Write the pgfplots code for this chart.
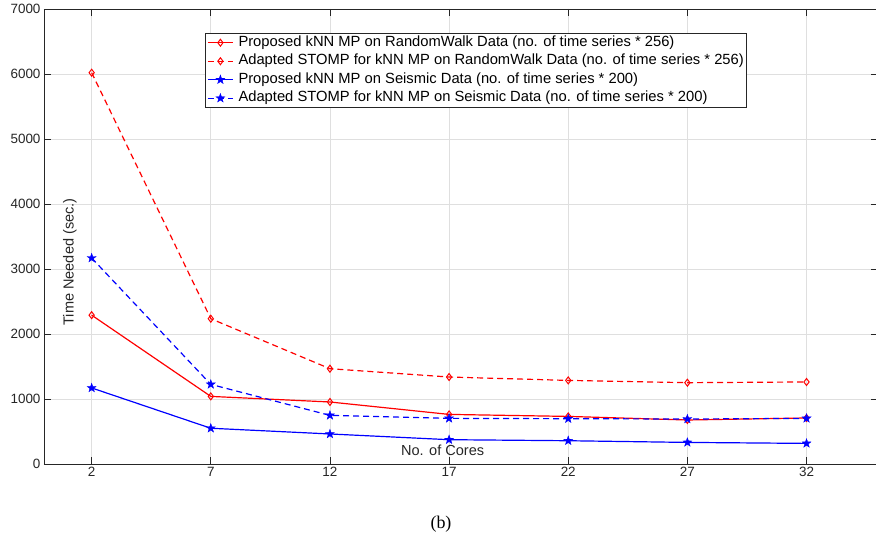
\documentclass[border=0pt]{standalone}
\usepackage{pgfplots}
\pgfplotsset{compat=1.18}
\usepackage{fontspec}
\setmainfont{Liberation Sans}
\newfontfamily\seriffont{Liberation Serif}
\usetikzlibrary{plotmarks}

\definecolor{axgray}{RGB}{38,38,38}
\definecolor{gridgray}{RGB}{223,223,223}

% filled five-pointed star
\pgfdeclareplotmark{fstar}{%
  \pgfpathmoveto{\pgfpointpolar{90}{1.3\pgfplotmarksize}}%
  \foreach \a [evaluate=\a as \b using \a+36] in {90,162,234,306,378}{%
    \pgfpathlineto{\pgfpointpolar{\a}{1.3\pgfplotmarksize}}%
    \pgfpathlineto{\pgfpointpolar{\b}{0.52\pgfplotmarksize}}%
  }%
  \pgfpathclose
  \pgfusepathqfillstroke
}

\begin{document}
\begin{tikzpicture}
\useasboundingbox (0,0) rectangle (876bp,535bp);
\begin{axis}[
  at={(44bp,71bp)}, anchor=south west,
  scale only axis,
  width=834bp, height=455bp,
  xmin=0, xmax=35, ymin=0, ymax=7000,
  xtick={2,7,12,17,22,27,32},
  ytick={0,1000,...,7000},
  /pgf/number format/1000 sep={},
  /pgf/number format/assume math mode=true,
  tick label style={font=\fontsize{13.5}{16}\selectfont, text=axgray},
  axis line style={axgray, line width=0.7pt},
  tick style={axgray, line width=0.7pt},
  major tick length=7bp,
  grid=major,
  major grid style={gridgray, line width=0.7pt},
  xlabel={No. of Cores},
  xlabel style={at={(rel axis cs:0.478,0.03)}, anchor=center, text=axgray,
    font=\fontsize{14.6}{17}\selectfont},
  ylabel={Time Needed (sec.)},
  ylabel style={at={(rel axis cs:0.031,0.444)}, anchor=center, rotate=0, text=axgray,
    font=\fontsize{14.6}{17}\selectfont},
  legend style={at={(rel axis cs:0.193,0.947)}, anchor=north west,
    draw=axgray, line width=0.7pt, fill=white,
    font=\fontsize{14.8}{17}\selectfont,
    inner sep=2bp, row sep=4bp,
    nodes={inner sep=0pt, text height=11bp, text depth=3.5bp},
    /tikz/every odd column/.append style={column sep=5bp}},
  legend cell align=left,
  legend image code/.code={%
    \draw[mark repeat=2,mark phase=2] plot coordinates {(0bp,0bp) (12.5bp,0bp) (25bp,0bp)};},
  every axis plot/.append style={line width=1.2pt},
]
% Proposed kNN MP, RandomWalk
\addplot[red, mark=diamond, mark size=3.5pt, mark options={solid, line width=1pt}]
  coordinates {(2,2290) (7,1040) (12,954) (17,763) (22,732) (27,677) (32,708)};
\addlegendentry{Proposed kNN MP on RandomWalk Data (no. of time series * 256)}
% Adapted STOMP, RandomWalk
\addplot[red, dash pattern=on 6bp off 4bp, mark=diamond, mark size=3.5pt, mark options={solid, line width=1pt}]
  coordinates {(2,6020) (7,2235) (12,1466) (17,1338) (22,1286) (27,1251) (32,1262)};
\addlegendentry{Adapted STOMP for kNN MP on RandomWalk Data (no. of time series * 256)}
% Proposed kNN MP, Seismic
\addplot[blue, mark=fstar, mark size=3.6pt, mark options={solid, line width=0.4pt}]
  coordinates {(2,1170) (7,550) (12,462) (17,374) (22,358) (27,332) (32,317)};
\addlegendentry{Proposed kNN MP on Seismic Data (no. of time series * 200)}
% Adapted STOMP, Seismic
\addplot[blue, dash pattern=on 6bp off 4bp, mark=fstar, mark size=3.6pt, mark options={solid, line width=0.4pt}]
  coordinates {(2,3169) (7,1225) (12,748) (17,702) (22,697) (27,692) (32,702)};
\addlegendentry{Adapted STOMP for kNN MP on Seismic Data (no. of time series * 200)}
\end{axis}
\node[font=\seriffont\fontsize{18}{20}\selectfont, inner sep=0pt] at (441bp,11bp) {(b)};
\end{tikzpicture}
\end{document}
